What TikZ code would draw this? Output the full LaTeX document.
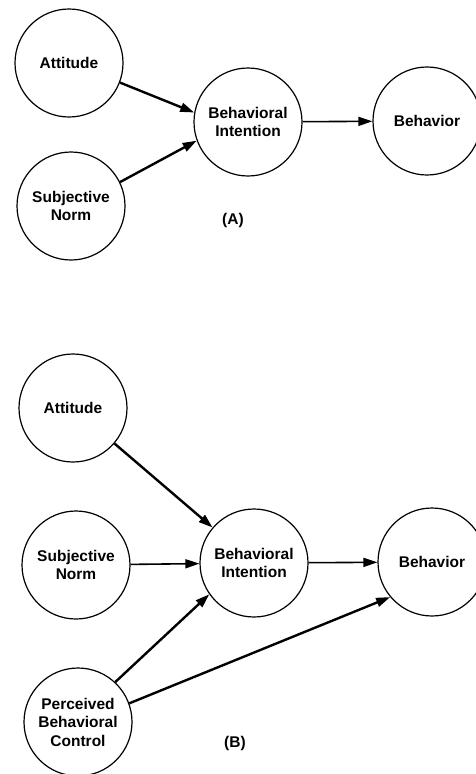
\documentclass[tikz,border=0pt]{standalone}
\usepackage{fontspec}
\setmainfont{Liberation Sans}
\usetikzlibrary{arrows.meta}

\begin{document}
\begin{tikzpicture}[x=1pt,y=-1pt,
  construct/.style={circle, draw, line width=1.2pt, minimum size=108pt, inner sep=0pt,
    align=center, font=\fontsize{15.5}{18.5}\selectfont\bfseries},
  panel/.style={font=\fontsize{15.5}{18.5}\selectfont\bfseries},
  link/.style={line width=2.4pt, -{Triangle[length=14pt,width=9pt]}},
  thinlink/.style={line width=1.6pt, -{Triangle[length=14pt,width=9pt]}}]
\useasboundingbox[fill=white] (0,0) rectangle (475,774);

% Model (A)
\node[construct] (att-a) at (69,63) {Attitude};
\node[construct] (sn-a) at (71,206) {Subjective\\Norm};
\node[construct] (bi-a) at (248,122) {Behavioral\\Intention};
\node[construct] (beh-a) at (427,121) {Behavior};
\node[panel] (lab-a) at (233,220) {(A)};

\draw[link] (att-a.-21) -- (bi-a.170);
\draw[link] (sn-a.26) -- (bi-a.200);
\draw[thinlink] (bi-a) -- (beh-a);

% Model (B)
\node[construct] (att-b) at (73,408) {Attitude};
\node[construct] (sn-b) at (76,565) {Subjective\\Norm};
\node[construct] (pbc-b) at (78,722) {Perceived\\Behavioral\\Control};
\node[construct] (bi-b) at (254,563) {Behavioral\\Intention};
\node[construct] (beh-b) at (432,562) {Behavior};
\node[panel] (lab-b) at (235,743) {(B)};

\draw[link] (att-b) -- (bi-b);
\draw[thinlink] (sn-b) -- (bi-b);
\draw[thinlink] (bi-b) -- (beh-b);
\draw[link] (pbc-b.47) -- (bi-b.215);
\draw[link] (pbc-b.20) -- (beh-b.220);
\end{tikzpicture}
\end{document}
